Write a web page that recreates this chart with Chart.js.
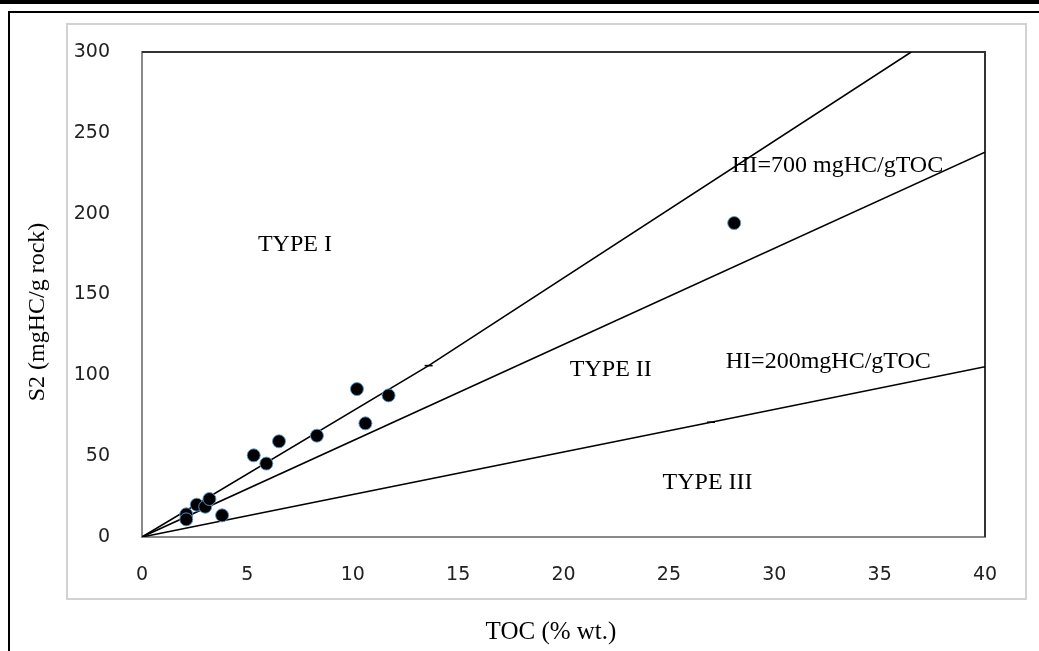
<!DOCTYPE html>
<html>
<head>
<meta charset="utf-8">
<title>S2 vs TOC</title>
<script src="https://cdn.jsdelivr.net/npm/chart.js@4.4.0/dist/chart.umd.min.js"></script>
<style>
  html, body { margin: 0; padding: 0; background: #fff; }
  canvas { display: block; }
</style>
</head>
<body>
<canvas id="chart" width="1039" height="651"></canvas>
<script>
'use strict'

// samples: TOC (% wt.) vs S2 (mgHC/g rock)
const toc = [2.1, 2.1, 2.6, 3.0, 3.2, 3.8, 5.3, 5.9, 6.5, 8.3, 10.2, 10.6, 11.7, 28.1];
const s2 = [14.0, 10.9, 20.0, 18.7, 23.5, 13.4, 50.5, 45.4, 59.2, 62.7, 91.5, 70.3, 87.6, 194.2];

// kerogen type boundary lines
const upperLineX = [0, 13.6, 36.5];
const upperLineY = [0, 106, 300];
const midLineX = [0, 40];
const midLineY = [0, 238];
const lowerLineX = [0, 27, 40];
const lowerLineY = [0, 71, 105.3];

const xTicks = [0, 5, 10, 15, 20, 25, 30, 35, 40];
const yTicks = [0, 50, 100, 150, 200, 250, 300];

// text placed in data units (left edge, baseline)
const noteText = ['TYPE I', 'TYPE II', 'TYPE III', 'HI=700 mgHC/gTOC', 'HI=200mgHC/gTOC'];
const noteX = [5.5, 20.3, 24.7, 28.0, 27.7];
const noteY = [177, 99.3, 29.7, 225.8, 104.5];

const toPoints = (xs, ys) => xs.map((x, i) => ({x: x, y: ys[i]}));

const decor = {
    id: 'decor',
    beforeDraw(chart) {
        const c = chart.ctx;
        c.save();
        c.fillStyle = '#fff';
        c.fillRect(0, 0, chart.width, chart.height);
        c.fillStyle = '#000';
        c.fillRect(0, 0, chart.width, 4);
        c.fillRect(8, 11, chart.width - 8, 2);
        c.fillRect(8, 11, 2, chart.height - 11);
        c.strokeStyle = '#d2d2d2';
        c.lineWidth = 2;
        c.strokeRect(67, 24, 959, 575);
        c.restore();
    },
    beforeDatasetsDraw(chart) {
        const c = chart.ctx;
        const a = chart.chartArea;
        c.save();
        c.strokeStyle = '#333';
        c.lineWidth = 2;
        c.beginPath();
        c.moveTo(a.left, a.top);
        c.lineTo(a.right, a.top);
        c.lineTo(a.right, a.bottom);
        c.stroke();
        c.restore();
    },
    afterDraw(chart) {
        const c = chart.ctx;
        const xs = chart.scales.x;
        const ys = chart.scales.y;
        c.save();
        c.fillStyle = '#000';
        c.font = '24px "Liberation Serif", "Times New Roman", serif';
        c.textAlign = 'left';
        c.textBaseline = 'alphabetic';
        noteText.forEach((t, i) => {
            c.fillText(t, xs.getPixelForValue(noteX[i]), ys.getPixelForValue(noteY[i]));
        });

        // axis titles
        c.textAlign = 'center';
        c.font = '25px "Liberation Serif", "Times New Roman", serif';
        c.fillText('TOC (% wt.)', 551, 639);
        c.translate(38, 312);
        c.rotate(-Math.PI / 2);
        c.textBaseline = 'middle';
        c.font = '24px "Liberation Serif", "Times New Roman", serif';
        c.fillText('S2 (mgHC/g rock)', 0, 0);
        c.restore();
    }
};

const ctx = document.getElementById('chart').getContext('2d');
const myChart = new Chart(ctx, {
    type: 'scatter',
    data: {
        datasets: [{
            label: 'Samples',
            data: toPoints(toc, s2),
            backgroundColor: '#000',
            borderColor: 'rgba(91, 155, 213, 0.9)',
            borderWidth: 1,
            pointRadius: 6.5,
            pointHoverRadius: 6.5
        },
        {
            label: 'Upper boundary',
            data: toPoints(upperLineX, upperLineY),
            showLine: true,
            borderColor: '#000',
            backgroundColor: '#000',
            borderWidth: 1.6,
            pointStyle: 'line',
            pointRadius: [0, 4, 0],
            pointBorderWidth: 1.6
        },
        {
            label: 'HI=700',
            data: toPoints(midLineX, midLineY),
            showLine: true,
            borderColor: '#000',
            borderWidth: 1.6,
            pointRadius: 0
        },
        {
            label: 'HI=200',
            data: toPoints(lowerLineX, lowerLineY),
            showLine: true,
            borderColor: '#000',
            backgroundColor: '#000',
            borderWidth: 1.6,
            pointStyle: 'line',
            pointRadius: [0, 4, 0],
            pointBorderWidth: 1.6
        }]
    },
    options: {
        responsive: false,
        animation: false,
        layout: {
            padding: {top: 52, right: 54, left: 0, bottom: 0}
        },
        plugins: {
            legend: {display: false},
            tooltip: {enabled: false}
        },
        scales: {
            x: {
                type: 'linear',
                min: 0,
                max: 40,
                afterBuildTicks: (scale) => { scale.ticks = xTicks.map(v => ({value: v})); },
                afterFit: (scale) => { scale.height = 114; },
                grid: {display: false},
                border: {display: true, color: '#8a8a8a', width: 2},
                ticks: {
                    padding: 19,
                    color: '#222',
                    font: {family: '"DejaVu Sans", sans-serif', size: 19}
                }
            },
            y: {
                type: 'linear',
                min: 0,
                max: 300,
                afterBuildTicks: (scale) => { scale.ticks = yTicks.map(v => ({value: v})); },
                afterFit: (scale) => { scale.width = 142; },
                grid: {display: false},
                border: {display: true, color: '#8a8a8a', width: 2},
                ticks: {
                    padding: 24,
                    color: '#222',
                    font: {family: '"DejaVu Sans", sans-serif', size: 19}
                }
            }
        }
    },
    plugins: [decor]
});
</script>
</body>
</html>
